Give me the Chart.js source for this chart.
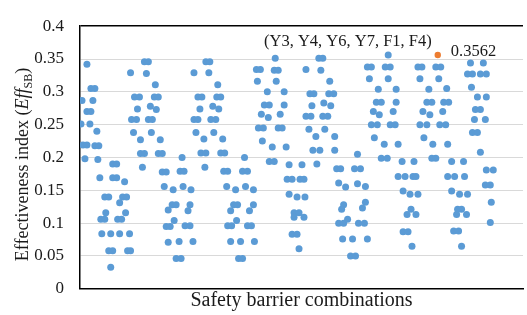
<!DOCTYPE html>
<html>
<head>
<meta charset="utf-8">
<script src="https://cdn.jsdelivr.net/npm/chart.js@4.4.1/dist/chart.umd.min.js"></script>
<style>
  html, body { margin: 0; padding: 0; background: #fff; }
</style>
</head>
<body>
<canvas id="eff-index" width="527" height="315"></canvas>
<script>
// [combination position, Eff_SB], one array per stretch of the x axis
const block1 = [
  [7, .342], [11, .305], [15, .305], [2, .287], [13, .287], [7, .270], [11, .270], [1, .251], [10, .251],
  [17, .240], [3, .219], [7, .219], [15, .218], [19, .218], [5, .198], [18, .197],
  [33, .190], [37, .190], [20, .169], [33, .169], [37, .169], [45, .163], [25, .140], [29, .140], [43, .140],
  [47, .140], [40, .131], [26, .116], [46, .116], [21, .106], [25, .106], [38, .106], [42, .106], [22, .084],
  [31, .084], [40, .084], [50, .084], [29, .058], [33, .058], [48, .058], [51, .058], [31, .033],
  [65, .346], [69, .346], [51, .329], [67, .328], [76, .311], [55, .292], [60, .292], [75, .292], [79, .292],
  [58, .274], [71, .278], [77, .273], [52, .258], [57, .258], [69, .258], [73, .258], [54, .238], [72, .238],
  [61, .227], [81, .227], [61, .206], [65, .206], [79, .206], [83, .206], [63, .185],
  [83, .178], [87, .178], [85, .156]
];
const block2 = [
  [89, .120], [87, .095], [91, .095], [89, .071],
  [103, .200], [101, .179], [105, .179], [94, .151], [104, .156], [112, .151], [93, .128], [97, .128], [111, .128],
  [109, .119], [95, .104], [106, .096], [111, .096], [100, .072], [114, .072], [97, .046], [102, .046],
  [127, .346], [131, .346], [115, .329], [130, .329], [139, .311], [119, .292], [123, .292], [138, .292],
  [142, .292], [121, .274], [134, .278], [140, .274], [115, .258], [119, .258], [132, .258], [137, .258],
  [117, .238], [135, .238], [125, .228], [144, .228], [122, .207], [127, .207], [142, .207], [146, .207], [126, .185],
  [145, .179], [149, .179], [166, .200], [164, .179], [169, .179], [148, .156], [157, .151], [167, .156],
  [175, .151], [155, .128], [159, .128], [152, .119], [175, .128], [171, .119], [158, .104], [149, .096],
  [153, .096], [169, .096], [173, .096], [152, .072], [162, .072], [176, .072], [160, .046], [164, .046]
];
const block3 = [
  [197, .351], [241, .351], [245, .351], [178, .334], [182, .334], [196, .333], [200, .333], [228, .334],
  [243, .333], [179, .316], [198, .316], [252, .316], [189, .300], [206, .300], [232, .297], [236, .297],
  [251, .297], [256, .297], [186, .280], [191, .280], [206, .280], [234, .279], [246, .283], [253, .279],
  [183, .266], [190, .261], [202, .266], [228, .263], [233, .263], [245, .263], [250, .263], [180, .245],
  [185, .245], [200, .245], [204, .245], [231, .243], [247, .243], [184, .225], [194, .216], [208, .216],
  [238, .232], [257, .232], [235, .211], [242, .211], [257, .211], [191, .194], [196, .194], [211, .189],
  [224, .189], [239, .190],
  [209, .167], [214, .167], [222, .167], [226, .167], [211, .144], [219, .140], [227, .140], [216, .116],
  [221, .116], [216, .109], [226, .109], [214, .083], [219, .083], [221, .061],
  [259, .183], [263, .183], [261, .161], [268, .155], [266, .128], [264, .121], [261, .100], [266, .100],
  [270, .106], [265, .076]
];
const block4 = [
  [311, .356], [290, .338], [294, .338], [308, .338], [313, .338], [341, .338], [345, .338], [292, .320],
  [311, .320], [343, .320], [301, .304], [319, .304], [352, .304], [299, .284], [304, .284], [319, .284],
  [350, .284], [355, .284], [296, .270], [302, .265], [316, .270], [346, .270], [353, .265], [294, .250],
  [300, .250], [313, .250], [318, .250], [343, .250], [350, .250], [297, .230], [307, .220], [321, .220],
  [347, .230], [356, .220], [304, .199], [310, .199], [355, .199], [359, .199],
  [280, .205], [277, .183], [283, .183], [325, .194], [337, .194], [321, .171], [328, .171], [336, .171],
  [339, .171], [280, .160], [288, .156], [326, .149], [333, .144], [341, .144], [288, .132], [285, .123],
  [334, .121], [330, .113], [339, .113], [281, .100], [287, .100], [275, .076], [290, .076], [326, .087],
  [331, .087], [335, .065], [273, .050], [278, .050]
];
const block5 = [
  [359, .338], [364, .338], [394, .344], [407, .344], [391, .327], [396, .327], [404, .327], [410, .327],
  [362, .320], [370, .305], [395, .307], [367, .284], [372, .284], [401, .292], [410, .292], [366, .270],
  [399, .273], [404, .273], [398, .258], [409, .258], [363, .250], [369, .250], [396, .238], [401, .238],
  [371, .220], [404, .208],
  [375, .194], [387, .194], [371, .171], [378, .171], [388, .171], [410, .181], [417, .181], [409, .158],
  [414, .158], [375, .149], [383, .144], [391, .144], [381, .121], [385, .121], [380, .113], [390, .113],
  [415, .132], [377, .088], [382, .088], [385, .065], [414, .101]
];

const bestCombo = 361;
const bestEff = 0.3562;
const bestLabel = '(Y3, Y4, Y6, Y7, F1, F4)';

const yTicks = [0, 0.05, 0.1, 0.15, 0.2, 0.25, 0.3, 0.35, 0.4];
const yTickLabels = ['0', '0.05', '0.1', '0.15', '0.2', '0.25', '0.3', '0.35', '0.4'];

const serif = '"Liberation Serif", "Times New Roman", serif';
const allPoints = [...block1, ...block2, ...block3, ...block4, ...block5].map(p => ({ x: p[0], y: p[1] }));

// y title needs italic + subscript, so it is drawn by hand
const yTitle = {
  id: 'yTitle',
  afterDraw(chart) {
    const { ctx, chartArea } = chart;
    const parts = [
      { t: 'Effectiveness index (', f: '18px ' + serif, dy: 0 },
      { t: 'Eff', f: 'italic 18px ' + serif, dy: 0 },
      { t: 'SB', f: '12px ' + serif, dy: 4 },
      { t: ')', f: '18px ' + serif, dy: 0 }
    ];
    ctx.save();
    let total = 0;
    parts.forEach(p => { ctx.font = p.f; p.w = ctx.measureText(p.t).width; total += p.w; });
    ctx.translate(28, (chartArea.top + chartArea.bottom) / 2 + 7);
    ctx.rotate(-Math.PI / 2);
    ctx.fillStyle = '#1a1a1a';
    ctx.textBaseline = 'alphabetic';
    let x = -total / 2;
    parts.forEach(p => { ctx.font = p.f; ctx.fillText(p.t, x, p.dy); x += p.w; });
    ctx.restore();
  }
};

// label of the best combination next to the orange point
const bestNote = {
  id: 'bestNote',
  afterDatasetsDraw(chart) {
    const { ctx, scales: { x, y } } = chart;
    const px = x.getPixelForValue(bestCombo);
    const py = y.getPixelForValue(bestEff);
    ctx.save();
    ctx.font = '16.5px ' + serif;
    ctx.fillStyle = '#1a1a1a';
    ctx.textAlign = 'left';
    ctx.fillText(bestEff.toFixed(4), px + 13, py + 1);
    ctx.textAlign = 'right';
    ctx.fillText(bestLabel, px - 6, py - 8.5);
    ctx.restore();
  }
};

new Chart(document.getElementById('eff-index'), {
  type: 'scatter',
  data: {
    datasets: [
      {
        data: [{ x: bestCombo, y: bestEff }],
        backgroundColor: '#ED7D31',
        borderWidth: 0,
        pointRadius: 3.2
      },
      {
        data: allPoints,
        backgroundColor: '#5B9BD5',
        borderWidth: 0,
        pointRadius: 3.5
      }
    ]
  },
  options: {
    responsive: false,
    animation: false,
    layout: { padding: { top: 18, right: 0, left: 0, bottom: 0 } },
    plugins: {
      legend: { display: false },
      tooltip: { enabled: false }
    },
    scales: {
      x: {
        type: 'linear',
        min: 0,
        max: 447,
        grid: { display: false },
        ticks: { display: false },
        border: { display: true, color: '#000', width: 1.5 },
        title: {
          display: true,
          text: 'Safety barrier combinations',
          color: '#1a1a1a',
          font: { family: serif, size: 20 },
          padding: { top: 0, bottom: 0 }
        },
        afterFit: s => { s.height = 24 }
      },
      y: {
        min: 0,
        max: 0.4,
        afterBuildTicks: s => { s.ticks = yTicks.map(v => ({ value: v })) },
        ticks: {
          color: '#1a1a1a',
          padding: 16,
          font: { family: serif, size: 17 },
          callback: (v, i) => yTickLabels[i]
        },
        grid: {
          drawTicks: false,
          lineWidth: c => c.tick && c.tick.value === 0.4 ? 1.5 : 1,
          color: c => c.tick && c.tick.value === 0.4 ? '#000' : '#d9d9d9'
        },
        border: { color: '#000', width: 1.5 },
        afterFit: s => { s.width = 80 }
      }
    }
  },
  plugins: [yTitle, bestNote]
});
</script>
</body>
</html>
